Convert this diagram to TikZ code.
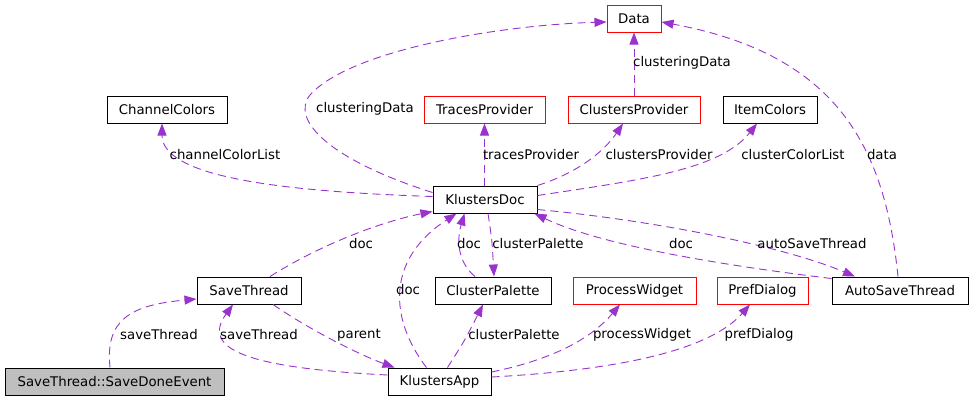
\documentclass[tikz,border=0pt]{standalone}
\usepackage{fontspec}
\setmainfont{DejaVu Sans}
\usetikzlibrary{arrows.meta}
\definecolor{edgec}{HTML}{9A32CD}
\definecolor{grayfill}{HTML}{BFBFBF}
\tikzset{
  cls/.style={draw=black, line width=1pt, minimum height=27pt, inner sep=0pt, font=\fontsize{13.3}{16}\selectfont},
  redcls/.style={cls, draw=red},
  lbl/.style={inner sep=0pt, font=\fontsize{13.3}{16}\selectfont},
  rel/.style={draw=edgec, line width=0.9pt, dash pattern=on 8pt off 5pt, -{Triangle[length=12pt,width=9pt]}},
}
\begin{document}
\begin{tikzpicture}[x=1pt,y=-1pt]
\useasboundingbox (0,0) rectangle (973,400);
% nodes
\node[redcls, minimum width=54pt] (data) at (634,18.5) {Data};
\node[cls, minimum width=120pt] (chc) at (167,109.5) {ChannelColors};
\node[redcls, minimum width=121pt] (trp) at (484.5,109.5) {TracesProvider};
\node[redcls, minimum width=132pt] (clp) at (634,109.5) {ClustersProvider};
\node[cls, minimum width=94pt] (itc) at (770,109.5) {ItemColors};
\node[cls, minimum width=104pt] (kdoc) at (485,199.5) {KlustersDoc};
\node[cls, minimum width=104pt] (svt) at (249,290.5) {SaveThread};
\node[cls, minimum width=116pt] (cpal) at (493,290.5) {ClusterPalette};
\node[redcls, minimum width=123pt] (pw) at (634.5,290.5) {ProcessWidget};
\node[redcls, minimum width=91pt] (pd) at (762.5,290.5) {PrefDialog};
\node[cls, minimum width=136pt] (ast) at (900,290.5) {AutoSaveThread};
\node[cls, minimum width=219pt, fill=grayfill] (sde) at (114.5,381.5) {SaveThread::SaveDoneEvent};
\node[cls, minimum width=103pt] (kapp) at (439.5,381.5) {KlustersApp};
% edges
\draw[rel] ([yshift=-7pt]kdoc.north west) .. controls (330,160) and (290,120) .. (310,95) .. controls (350,50) and (500,25) .. ([yshift=-3.5pt]data.west);
\draw[rel] ([yshift=-11pt]kdoc.north west) .. controls (300,192) and (162,180) .. ([xshift=-5pt]chc.south);
\draw[rel] (trp.south |- kdoc.north) -- (trp.south);
\draw[rel] (kdoc.north east) .. controls (580,172) and (605,150) .. ([xshift=-11pt]clp.south);
\draw[rel] ([yshift=-10pt]kdoc.north east) .. controls (640,180) and (720,170) .. ([xshift=-13pt]itc.south);
\draw[rel] (clp.north) -- (data.south);
\draw[rel] ([xshift=-2pt]ast.north) .. controls (885,150) and (840,55) .. ([yshift=-3.5pt]data.east);
\draw[rel] ([xshift=21pt]svt.north) .. controls (320,245) and (380,222) .. ([yshift=2pt]kdoc.south west);
\draw[rel] ([xshift=-13pt]kapp.north) .. controls (390,320) and (385,260) .. ([xshift=24pt]kdoc.south west);
\draw[rel] ([xshift=-18pt]cpal.north) .. controls (455,260) and (458,235) .. ([xshift=32pt]kdoc.south west);
\draw[rel] ([xshift=3pt]kdoc.south) .. controls (492,240) .. ([xshift=1pt]cpal.north);
\draw[rel] ([yshift=-2pt]ast.north west) .. controls (720,265) and (600,245) .. ([xshift=-3pt]kdoc.south east);
\draw[rel] ([yshift=4pt]kdoc.south east) .. controls (650,220) and (780,245) .. ([xshift=-45pt]ast.north);
\draw[rel] ([xshift=-4.5pt]sde.north) .. controls (105,320) and (130,305) .. ([yshift=-8.5pt]svt.west);
\draw[rel] ([yshift=6.5pt]kapp.west) .. controls (250,368) and (200,350) .. ([xshift=-16pt]svt.south);
\draw[rel] ([xshift=24pt]svt.south) .. controls (310,330) and (360,355) .. ([xshift=7pt]kapp.north west);
\draw[rel] ([xshift=8pt]kapp.north) .. controls (465,340) .. ([xshift=-10pt]cpal.south);
\draw[rel] ([yshift=9.5pt]kapp.east) .. controls (550,360) and (590,340) .. ([xshift=-14.5pt]pw.south);
\draw[rel] ([yshift=4.5pt]kapp.east) .. controls (620,370) and (710,350) .. ([xshift=-12.5pt]pd.south);
% labels
\node[lbl] (l1) at (365,109) {clusteringData};
\node[lbl] (l2) at (682,63) {clusteringData};
\node[lbl] (l3) at (882,155) {data};
\node[lbl] (l4) at (225,155) {channelColorList};
\node[lbl] (l5) at (531,155) {tracesProvider};
\node[lbl] (l6) at (659,155) {clustersProvider};
\node[lbl] (l7) at (793,155) {clusterColorList};
\node[lbl] (l8) at (361,244) {doc};
\node[lbl] (l9) at (408,290) {doc};
\node[lbl] (l10) at (469,244) {doc};
\node[lbl] (l11) at (538,244) {clusterPalette};
\node[lbl] (l12) at (681,244) {doc};
\node[lbl] (l13) at (812,244) {autoSaveThread};
\node[lbl] (l14) at (159,335) {saveThread};
\node[lbl] (l15) at (259,335) {saveThread};
\node[lbl] (l16) at (359,335) {parent};
\node[lbl] (l17) at (514,335) {clusterPalette};
\node[lbl] (l18) at (642,335) {processWidget};
\node[lbl] (l19) at (759,335) {prefDialog};
\end{tikzpicture}
\end{document}
